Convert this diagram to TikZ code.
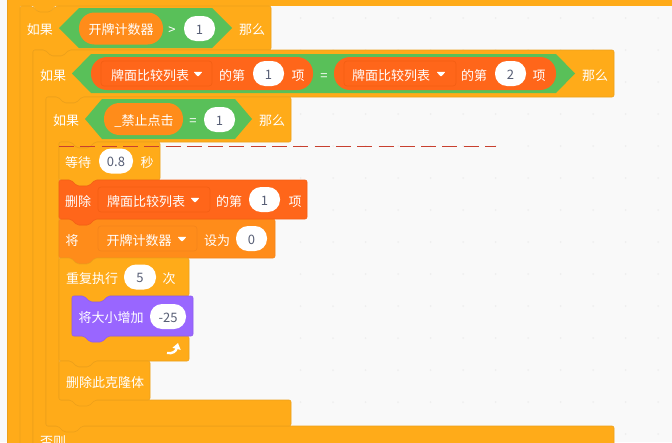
\documentclass[tikz,border=0pt]{standalone}
\usepackage{fontspec}
\setmainfont{Noto Sans CJK SC}
\usetikzlibrary{arrows.meta}
\definecolor{ctrl}{HTML}{FFAB19}
\definecolor{ctrledge}{HTML}{EDA01A}
\definecolor{varc}{HTML}{FF8C1A}
\definecolor{varedge}{HTML}{F5851A}
\definecolor{listc}{HTML}{FF661A}
\definecolor{listedge}{HTML}{F45F14}
\definecolor{opc}{HTML}{59C059}
\definecolor{numc}{HTML}{575E75}
\definecolor{looks}{HTML}{9966FF}
\definecolor{looksedge}{HTML}{8F5CF0}
\definecolor{bgc}{HTML}{F9F9F9}
\definecolor{dotc}{HTML}{EFEFEF}
\definecolor{redline}{HTML}{C8402F}
\tikzset{
  lbl/.style={text=white,font=\fontsize{13}{13}\selectfont,inner sep=0pt,text height=11pt,text depth=0pt},
  valpill/.style={fill=white,rounded corners=12pt,inner sep=0pt,minimum height=25pt,text=numc,font=\fontsize{13}{13}\selectfont,text height=11pt,text depth=0pt},
  varpill/.style={fill=varc,rounded corners=15.5pt,inner sep=0pt,text=white,font=\fontsize{13}{13}\selectfont,text height=11pt,text depth=0pt},
  listpill/.style={fill=listc,rounded corners=16pt,inner sep=0pt,minimum height=33pt,minimum width=222pt},
  ddlist/.style={fill=listc,draw=listedge,line width=0.7pt,rounded corners=3pt,inner sep=0pt,minimum height=25pt},
  ddvar/.style={fill=varc,draw=varedge,line width=0.7pt,rounded corners=3pt,inner sep=0pt,minimum height=25pt},
  hexblk/.style={fill=opc},
}
\newcommand{\stackblk}[6]{%
  \draw[fill=#5,draw=#6,line width=0.6pt,rounded corners=2pt]
   (#1,#2) -- (#1+12,#2) -- (#1+18,#2+6) -- (#1+30,#2+6) -- (#1+36,#2) -- (#3,#2) -- (#3,#4)
   -- (#1+36,#4) -- (#1+30,#4+6) -- (#1+18,#4+6) -- (#1+12,#4) -- (#1,#4) -- cycle;}
\newcommand{\cblk}[7]{%
  \draw[fill=ctrl,draw=ctrledge,line width=0.6pt,rounded corners=2pt]
   (#1,#2) -- (#1+12,#2) -- (#1+18,#2+6) -- (#1+30,#2+6) -- (#1+36,#2) -- (#3,#2) -- (#3,#4)
   -- (#1+49,#4) -- (#1+43,#4+6) -- (#1+31,#4+6) -- (#1+25,#4) -- (#1+13,#4)
   -- (#1+13,#5) -- (#6,#5) -- (#6,#7)
   -- (#1+36,#7) -- (#1+30,#7+6) -- (#1+18,#7+6) -- (#1+12,#7) -- (#1,#7) -- cycle;}
\newcommand{\ddtri}[2]{\fill[white,rounded corners=0.8pt] (#1-4.5,#2-2.2) -- (#1+4.5,#2-2.2) -- (#1,#2+2.8) -- cycle;}
\newcommand{\hexa}[6]{%
  \path[hexblk] (#1,#5/2+#6/2) -- (#2,#5) -- (#3,#5) -- (#4,#5/2+#6/2) -- (#3,#6) -- (#2,#6) -- cycle;}
\begin{document}
\begin{tikzpicture}[x=1pt,y=-1pt]
\useasboundingbox (0,0) rectangle (672,442);
\clip (0,0) rectangle (672,442);
\fill[bgc] (0,0) rectangle (672,442);
\foreach \i in {0,...,11}{\foreach \j in {0,...,13}{
  \fill[dotc] ({658-32.5*\i},{18+32*\j}) circle (1pt);}}
% outer wrapper with the bump that fills the first notch
\fill[ctrl] (7,-5) rectangle (672,6);
\fill[ctrl] (7,-5) rectangle (20,450);
\draw[ctrledge,line width=0.6pt] (7,-5) -- (7,450);
\fill[ctrl] (25,5) -- (32,5) -- (38,12) -- (50,12) -- (56,5) -- cycle;
% nested C blocks
\cblk{20}{6}{271}{50}{480}{672}{500}
\cblk{33}{50}{614}{97}{426}{614}{470}
\cblk{46}{97}{291}{142}{400}{291}{426}
\stackblk{59}{142}{160}{180}{ctrl}{ctrledge}
\stackblk{59}{219}{275}{258}{varc}{varedge}
\stackblk{59}{180}{307}{219}{listc}{listedge}
\cblk{59}{258}{189}{296}{336}{189}{361}
\stackblk{59}{361}{150}{400}{ctrl}{ctrledge}
\stackblk{72}{296}{193}{336}{looks}{looksedge}
% row 1
\node[lbl] (if1) at (40,29) {如果};
\hexa{59}{79}{212}{232}{8}{48}
\node[varpill,minimum width=84pt,minimum height=32pt] (v1) at (121,28.5) {开牌计数器};
\node[lbl] (gt) at (172,29) {>};
\node[valpill,minimum width=31pt] (n1) at (199.5,28.5) {1};
\node[lbl] (then1) at (252,29) {那么};
% row 2
\node[lbl] (if2) at (53,74.5) {如果};
\hexa{72}{91}{556}{575}{54}{93}
\node[listpill] (p21) at (202,73.5) {};
\node[listpill] (p22) at (445,73.5) {};
\node[ddlist,minimum width=111pt] (d21) at (156.5,73.5) {};
\node[lbl] (t21) at (150,74.5) {牌面比较列表};
\ddtri{198}{74}
\node[lbl] (o21) at (232,74.5) {的第};
\node[valpill,minimum width=31pt] (n21) at (268.5,73.5) {1};
\node[lbl] (x21) at (298,74.5) {项};
\node[lbl] (eq2) at (324,74.5) {=};
\node[ddlist,minimum width=112pt] (d22) at (400,73.5) {};
\node[lbl] (t22) at (391,74.5) {牌面比较列表};
\ddtri{441}{74}
\node[lbl] (o22) at (474,74.5) {的第};
\node[valpill,minimum width=31pt] (n22) at (510.5,73.5) {2};
\node[lbl] (x22) at (539,74.5) {项};
\node[lbl] (then2) at (595,74.5) {那么};
% row 3
\node[lbl] (if3) at (66,120) {如果};
\hexa{85}{102}{235}{252}{99}{139}
\node[varpill,minimum width=79pt,minimum height=32pt] (v3) at (143.5,119) {};
\node[lbl] (t3) at (144,120) {\_禁止点击};
\node[lbl] (eq3) at (193,120) {=};
\node[valpill,minimum width=31pt] (n3) at (219.5,119.5) {1};
\node[lbl] (then3) at (272,120) {那么};
% wait
\node[lbl] (w1) at (78,161.5) {等待};
\node[valpill,minimum width=34pt] (w2) at (116,161) {0.8};
\node[lbl] (w3) at (147,161.5) {秒};
% delete
\node[lbl] (del1) at (78,200.5) {删除};
\node[ddlist,minimum width=112pt] (del2) at (154,199.5) {};
\node[lbl] (del3) at (146,200.5) {牌面比较列表};
\ddtri{195}{200}
\node[lbl] (del4) at (229,200.5) {的第};
\node[valpill,minimum width=31pt] (del5) at (264.5,199.5) {1};
\node[lbl] (del6) at (295,200.5) {项};
% set
\node[lbl] (s1) at (72,239.5) {将};
\node[ddvar,minimum width=99pt] (s2) at (147.5,238.5) {};
\node[lbl] (s3) at (139,239.5) {开牌计数器};
\ddtri{182}{239}
\node[lbl] (s4) at (217,239.5) {设为};
\node[valpill,minimum width=31pt] (s5) at (251.5,238.5) {0};
% repeat
\node[lbl] (r1) at (92,277.5) {重复执行};
\node[valpill,minimum width=32pt] (r2) at (140,277) {5};
\node[lbl] (r3) at (169,277.5) {次};
% looks
\node[lbl] (l1) at (111,317) {将大小增加};
\node[valpill,minimum width=36pt] (l2) at (168,316.5) {-25};
% loop arrow
\coordinate (a1) at (167,353);
\coordinate (a2) at (178,343);
\draw[white,line width=2.4pt,-{Triangle[length=6pt,width=8pt]}] (a1) .. controls (173,354) and (176,351) .. (a2);
% delete clone
\node[lbl] (c1) at (105,382) {删除此克隆体};
% else
\node[lbl] (e1) at (53,441) {否则};
% red dashed line
\coordinate (rl1) at (59,146);
\coordinate (rl2) at (496,146);
\draw[redline,line width=0.8pt,dash pattern=on 15pt off 6.3pt] (rl1) -- (rl2);
\end{tikzpicture}
\end{document}
